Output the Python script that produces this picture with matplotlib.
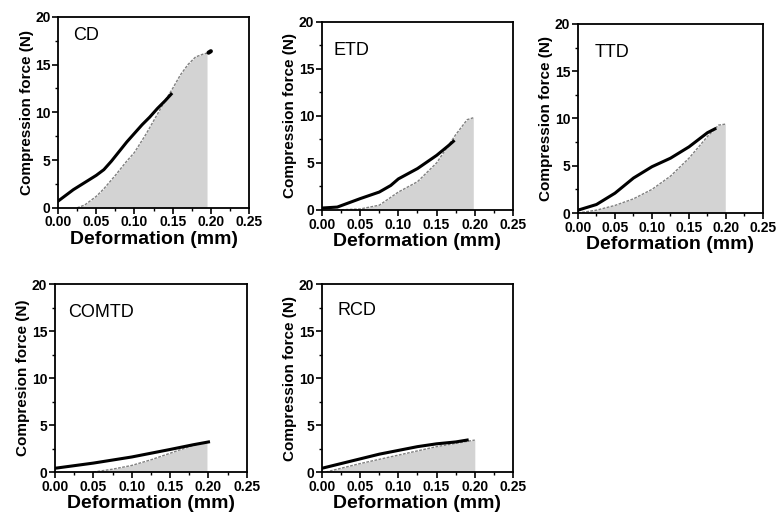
import numpy as np
import matplotlib
matplotlib.use('Agg')
import matplotlib.pyplot as plt
from matplotlib.ticker import MultipleLocator

plt.rcParams['font.family'] = ['Liberation Sans', 'DejaVu Sans']

# panel names and y labels (COMTD keeps the original spelling)
panelNames = ['CD', 'ETD', 'TTD', 'COMTD', 'RCD']
yLabels = ['Compression force (N)', 'Compression force (N)', 'Compression force (N)',
           'Compresion force (N)', 'Compression force (N)']
xLabel = 'Deformation (mm)'

# loading curves (solid black)
cdLoadX = [0, 0.01, 0.02, 0.03, 0.04, 0.05, 0.06, 0.07, 0.08, 0.09, 0.10, 0.11, 0.12, 0.13, 0.14, 0.148]
cdLoadY = [0.7, 1.3, 1.9, 2.4, 2.9, 3.4, 4.0, 4.9, 5.9, 6.9, 7.8, 8.7, 9.5, 10.4, 11.2, 11.9]
etdLoadX = [0, 0.02, 0.03, 0.05, 0.075, 0.09, 0.10, 0.125, 0.15, 0.165, 0.172]
etdLoadY = [0.2, 0.3, 0.6, 1.2, 1.9, 2.6, 3.3, 4.4, 5.8, 6.8, 7.3]
ttdLoadX = [0, 0.025, 0.05, 0.075, 0.10, 0.125, 0.15, 0.175, 0.185]
ttdLoadY = [0.3, 0.9, 2.1, 3.7, 4.9, 5.8, 7.0, 8.5, 8.9]
comtdLoadX = [0, 0.05, 0.10, 0.15, 0.18, 0.20]
comtdLoadY = [0.4, 0.95, 1.6, 2.4, 2.9, 3.2]
rcdLoadX = [0, 0.025, 0.05, 0.075, 0.10, 0.125, 0.15, 0.175, 0.19]
rcdLoadY = [0.4, 0.9, 1.4, 1.9, 2.3, 2.7, 3.0, 3.2, 3.4]

# unloading curves (grey dashed, area below filled)
cdUnloadX = [0.025, 0.035, 0.05, 0.06, 0.075, 0.09, 0.10, 0.115, 0.125, 0.14, 0.15, 0.16, 0.17, 0.18, 0.19, 0.195]
cdUnloadY = [0, 0.3, 1.2, 2.0, 3.4, 4.9, 5.8, 7.7, 9.1, 11.2, 12.5, 13.9, 15.0, 15.8, 16.1, 16.2]
etdUnloadX = [0.02, 0.05, 0.075, 0.10, 0.125, 0.15, 0.175, 0.19, 0.198]
etdUnloadY = [0, 0.1, 0.5, 1.9, 3.0, 5.0, 8.0, 9.6, 9.8]
ttdUnloadX = [0, 0.025, 0.05, 0.075, 0.10, 0.125, 0.15, 0.175, 0.19, 0.199]
ttdUnloadY = [0, 0.3, 0.8, 1.5, 2.5, 3.9, 5.8, 8.1, 9.3, 9.4]
comtdUnloadX = [0.05, 0.075, 0.10, 0.125, 0.15, 0.175, 0.198]
comtdUnloadY = [0, 0.3, 0.7, 1.3, 2.0, 2.7, 3.2]
rcdUnloadX = [0.005, 0.05, 0.10, 0.15, 0.20]
rcdUnloadY = [0, 0.9, 1.8, 2.7, 3.4]

# small black tip at the end of the CD curve
cdTipX = [0.197, 0.2]
cdTipY = [16.25, 16.4]

loads = [(cdLoadX, cdLoadY), (etdLoadX, etdLoadY), (ttdLoadX, ttdLoadY),
         (comtdLoadX, comtdLoadY), (rcdLoadX, rcdLoadY)]
unloads = [(cdUnloadX, cdUnloadY), (etdUnloadX, etdUnloadY), (ttdUnloadX, ttdUnloadY),
           (comtdUnloadX, comtdUnloadY), (rcdUnloadX, rcdUnloadY)]

# axes rectangles in figure fractions
rects = [[0.0744, 0.598, 0.2449, 0.3694],
         [0.4128, 0.594, 0.2449, 0.3636],
         [0.7410, 0.588, 0.2372, 0.3656],
         [0.0705, 0.087, 0.2460, 0.3636],
         [0.4128, 0.087, 0.2449, 0.3636]]
labelPos = [(0.08, 0.90), (0.06, 0.85), (0.09, 0.85), (0.07, 0.85), (0.08, 0.86)]

fig = plt.figure(figsize=(7.8, 5.17), dpi=100)

for i in range(5):
    ax = fig.add_axes(rects[i])
    ux, uy = unloads[i]
    lx, ly = loads[i]
    ax.fill_between(ux, 0, uy, color='#d3d3d3', linewidth=0)
    ax.plot(ux, uy, color='#808080', linestyle=(0, (2, 1)), linewidth=1.0)
    ax.plot(lx, ly, color='black', linewidth=2.2)
    if i == 0:
        ax.plot(cdTipX, cdTipY, color='black', linewidth=3, solid_capstyle='round')

    ax.set_xlim(0, 0.25)
    ax.set_ylim(0, 20)
    ax.xaxis.set_major_locator(MultipleLocator(0.05))
    ax.xaxis.set_minor_locator(MultipleLocator(0.025))
    ax.yaxis.set_major_locator(MultipleLocator(5))
    ax.yaxis.set_minor_locator(MultipleLocator(2.5))
    ax.set_xticklabels(['{:.2f}'.format(v) for v in ax.get_xticks()])
    ax.tick_params(which='major', direction='out', length=4, width=1.2, labelsize=10, pad=1.5)
    ax.tick_params(which='minor', direction='out', length=2.5, width=1.0)
    ax.tick_params(top=False, right=False)
    for lab in ax.get_xticklabels() + ax.get_yticklabels():
        lab.set_fontweight('bold')
    for sp in ax.spines.values():
        sp.set_linewidth(1.3)

    ax.set_xlabel(xLabel, fontsize=14, fontweight='bold', labelpad=1)
    ax.set_ylabel(yLabels[i], fontsize=11, fontweight='bold', labelpad=1)
    ax.text(labelPos[i][0], labelPos[i][1], panelNames[i], transform=ax.transAxes,
            fontsize=13, va='center', ha='left')

fig.savefig('out.png', dpi=100)
